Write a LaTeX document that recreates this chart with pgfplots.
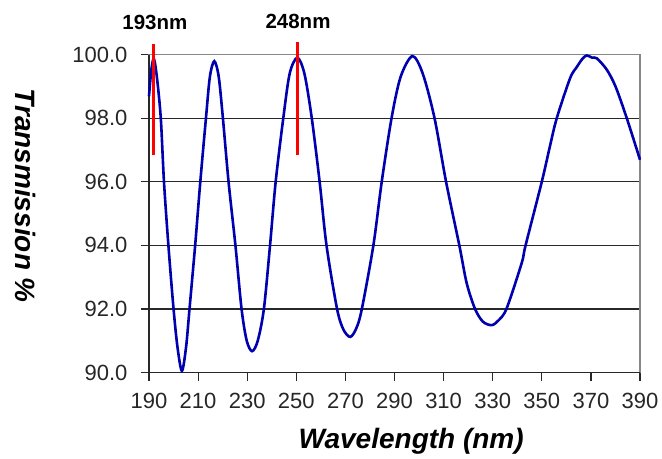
\documentclass[border=0pt]{standalone}
\usepackage{fontspec}
\setmainfont{Liberation Sans}
\usepackage{pgfplots}
\pgfplotsset{compat=1.18}
\definecolor{curveblue}{RGB}{0,0,175}
\definecolor{gridgray}{RGB}{40,40,40}
\definecolor{framegray}{RGB}{135,135,135}

\pgfplotstableread{
x y
190.0 98.69
191.0 99.55
192.0 99.86
193.2 99.30
194.8 98.00
196.1 96.00
197.9 94.00
200.0 92.00
201.6 90.80
203.4 90.05
205.1 90.80
206.5 92.00
208.8 94.00
210.9 96.00
213.2 98.00
214.8 99.30
216.6 99.79
218.4 99.30
220.1 98.00
222.4 96.00
225.2 94.00
227.7 92.00
229.8 91.00
232.0 90.67
234.3 91.00
236.8 92.00
239.3 94.00
241.6 96.00
244.7 98.00
247.3 99.40
250.4 99.90
253.3 99.40
256.3 98.00
259.5 96.00
262.3 94.00
266.6 92.00
269.2 91.35
272.0 91.12
274.5 91.40
276.7 92.00
281.4 94.00
284.8 96.00
288.8 98.00
292.5 99.30
297.3 99.95
301.5 99.40
306.3 98.00
311.0 96.00
316.4 94.00
319.4 92.81
322.8 92.00
326.0 91.60
329.6 91.49
332.5 91.65
335.7 92.02
341.8 93.44
343.4 94.00
350.0 96.00
353.3 97.11
356.1 98.00
361.5 99.25
364.2 99.60
366.5 99.86
368.3 99.97
370.5 99.90
372.4 99.88
376.4 99.53
380.0 99.00
384.6 98.00
390.0 96.69
}\transmission

\begin{document}
\begin{tikzpicture}
\begin{axis}[
    scale only axis,
    width=491pt, height=318pt,
    xmin=190, xmax=390, ymin=90, ymax=100,
    xtick={190,210,...,390},
    ytick={90,92,...,100},
    /pgf/number format/assume math mode=true,
    yticklabel={\pgfmathprintnumber[fixed,fixed zerofill,precision=1]{\tick}},
    xticklabel style={/pgf/number format/1000 sep={}, yshift=-9pt},
    yticklabel style={xshift=-10pt},
    tick label style={font=\fontsize{22}{24}\selectfont, text=black!85},
    tick align=outside, major tick length=8pt,
    xtick pos=bottom, ytick pos=left,
    every tick/.style={draw=gridgray, line width=1.2pt},
    ymajorgrids=true, grid style={gridgray, line width=1.2pt},
    axis line style={framegray, line width=1.3pt},
    xlabel={\textbf{\textit{Wavelength (nm)}}},
    ylabel={\textbf{\textit{Transmission \%}}},
    label style={font=\fontsize{28}{30}\selectfont},
    xlabel style={at={(axis description cs:0.534,-0.216)}, anchor=center},
    ylabel style={at={(axis description cs:-0.2525,0.556)}, anchor=center, rotate=180},
    clip=false,
]
\draw[gridgray, line width=1.3pt] (rel axis cs:0,1) -- (rel axis cs:0,0) -- (rel axis cs:1,0);
\addplot[curveblue, line width=2.6pt, smooth, tension=0.5] table[x=x, y=y] {\transmission};
\addplot[red, line width=3pt] coordinates {(191.9,96.83) (191.9,100.33)};
\addplot[red, line width=3pt] coordinates {(250.3,96.83) (250.3,100.40)};
\node[font=\fontsize{20.5}{22}\bfseries] at (axis cs:192.4,101.02) {193nm};
\node[font=\fontsize{20.5}{22}\bfseries] at (axis cs:250.7,101.05) {248nm};
\coordinate (ll) at (rel axis cs:0,0);
\coordinate (ur) at (rel axis cs:1,1);
\end{axis}
\pgfresetboundingbox
\path[use as bounding box] ([shift={(-149pt,-85.7pt)}]ll) rectangle ([shift={(22pt,54.5pt)}]ur);
\end{tikzpicture}
\end{document}
